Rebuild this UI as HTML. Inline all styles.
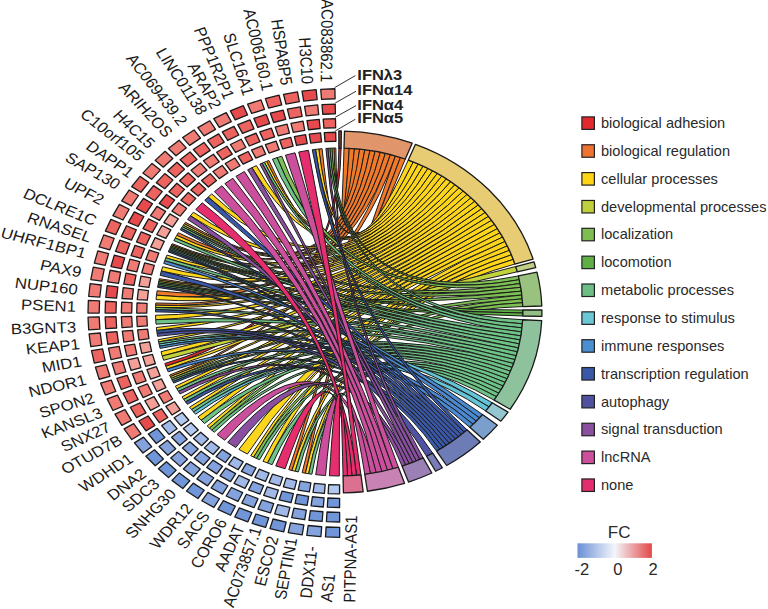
<!DOCTYPE html>
<html><head><meta charset="utf-8"><style>
html,body{margin:0;padding:0;background:#fff;width:768px;height:609px;overflow:hidden;position:relative}
svg path{vector-effect:non-scaling-stroke}
</style></head><body>
<svg width="768" height="609" viewBox="0 0 768 609" style="position:absolute;left:0;top:0">
<g transform="matrix(1.12 0 0 1 339.2 312.0)">
<g stroke="#1a1a1a" stroke-width="1.3" stroke-linejoin="round">
<g class="rb" stroke-width="1.0" stroke="#1c1c1c">
<path d="M-155.71,51.49Q0,0 -0.29,-164.00L1.72,-163.99Q0,0 -154.75,54.29Z" fill="#e3282e"/>
<path d="M-3.01,-163.97Q0,0 4.29,-163.94L8.96,-163.75Q0,0 -4.78,-163.93Z" fill="#f07a2a"/>
<path d="M-15.26,-163.29Q0,0 8.96,-163.75L13.63,-163.43Q0,0 -18.21,-162.99Z" fill="#f07a2a"/>
<path d="M-62.76,-151.52Q0,0 13.63,-163.43L18.28,-162.98Q0,0 -64.80,-150.65Z" fill="#f07a2a"/>
<path d="M-137.26,-89.75Q0,0 18.28,-162.98L22.92,-162.39Q0,0 -138.22,-88.26Z" fill="#f07a2a"/>
<path d="M-143.59,-79.23Q0,0 22.92,-162.39L27.54,-161.67Q0,0 -145.00,-76.63Z" fill="#f07a2a"/>
<path d="M-149.11,-68.27Q0,0 27.54,-161.67L32.14,-160.82Q0,0 -149.64,-67.12Z" fill="#f07a2a"/>
<path d="M-160.58,-33.34Q0,0 32.14,-160.82L36.71,-159.84Q0,0 -160.87,-31.89Z" fill="#f07a2a"/>
<path d="M-162.62,-21.24Q0,0 36.71,-159.84L41.25,-158.73Q0,0 -163.13,-16.83Z" fill="#f07a2a"/>
<path d="M-163.75,-9.01Q0,0 41.25,-158.73L45.75,-157.49Q0,0 -163.86,-6.80Z" fill="#f07a2a"/>
<path d="M-151.42,63.00Q0,0 45.75,-157.49L50.22,-156.12Q0,0 -150.73,64.63Z" fill="#f07a2a"/>
<path d="M-45.01,157.70Q0,0 50.22,-156.12L54.65,-154.63Q0,0 -42.16,158.49Z" fill="#f07a2a"/>
<path d="M-33.09,160.63Q0,0 54.65,-154.63L59.04,-153.00Q0,0 -30.19,161.20Z" fill="#f07a2a"/>
<path d="M-4.78,-163.93Q0,0 61.70,-151.95L66.17,-150.06Q0,0 -6.55,-163.87Z" fill="#fdd51a"/>
<path d="M-18.21,-162.99Q0,0 66.17,-150.06L70.59,-148.03Q0,0 -21.14,-162.63Z" fill="#fdd51a"/>
<path d="M-64.80,-150.65Q0,0 70.59,-148.03L74.94,-145.88Q0,0 -66.84,-149.76Z" fill="#fdd51a"/>
<path d="M-73.92,-146.40Q0,0 74.94,-145.88L79.22,-143.59Q0,0 -77.85,-144.34Z" fill="#fdd51a"/>
<path d="M-113.82,-118.07Q0,0 79.22,-143.59L83.44,-141.19Q0,0 -116.97,-114.95Z" fill="#fdd51a"/>
<path d="M-130.16,-99.77Q0,0 83.44,-141.19L87.59,-138.65Q0,0 -132.81,-96.21Z" fill="#fdd51a"/>
<path d="M-138.22,-88.26Q0,0 87.59,-138.65L91.65,-136.00Q0,0 -139.17,-86.76Z" fill="#fdd51a"/>
<path d="M-145.00,-76.63Q0,0 91.65,-136.00L95.64,-133.23Q0,0 -146.35,-74.00Z" fill="#fdd51a"/>
<path d="M-149.64,-67.12Q0,0 95.64,-133.23L99.54,-130.34Q0,0 -150.15,-65.96Z" fill="#fdd51a"/>
<path d="M-153.80,-56.92Q0,0 99.54,-130.34L103.36,-127.33Q0,0 -154.81,-54.14Z" fill="#fdd51a"/>
<path d="M-157.63,-45.26Q0,0 103.36,-127.33L107.08,-124.22Q0,0 -158.80,-40.98Z" fill="#fdd51a"/>
<path d="M-160.87,-31.89Q0,0 107.08,-124.22L110.71,-120.99Q0,0 -161.15,-30.44Z" fill="#fdd51a"/>
<path d="M-163.13,-16.83Q0,0 110.71,-120.99L114.25,-117.66Q0,0 -163.53,-12.41Z" fill="#fdd51a"/>
<path d="M-163.86,-6.80Q0,0 114.25,-117.66L117.68,-114.23Q0,0 -163.94,-4.58Z" fill="#fdd51a"/>
<path d="M-163.97,3.26Q0,0 117.68,-114.23L121.01,-110.69Q0,0 -163.82,7.70Z" fill="#fdd51a"/>
<path d="M-163.26,15.52Q0,0 121.01,-110.69L124.23,-107.06Q0,0 -162.96,18.46Z" fill="#fdd51a"/>
<path d="M-161.65,27.69Q0,0 124.23,-107.06L127.35,-103.33Q0,0 -161.26,29.87Z" fill="#fdd51a"/>
<path d="M-159.12,39.70Q0,0 127.35,-103.33L130.35,-99.52Q0,0 -157.99,43.99Z" fill="#fdd51a"/>
<path d="M-154.75,54.29Q0,0 130.35,-99.52L133.24,-95.62Q0,0 -153.75,57.08Z" fill="#fdd51a"/>
<path d="M-150.73,64.63Q0,0 133.24,-95.62L136.02,-91.63Q0,0 -150.02,66.26Z" fill="#fdd51a"/>
<path d="M-146.28,74.15Q0,0 136.02,-91.63L138.67,-87.56Q0,0 -144.92,76.77Z" fill="#fdd51a"/>
<path d="M-140.32,84.88Q0,0 138.67,-87.56L141.20,-83.42Q0,0 -138.77,87.40Z" fill="#fdd51a"/>
<path d="M-133.58,95.14Q0,0 141.20,-83.42L143.61,-79.20Q0,0 -131.84,97.54Z" fill="#fdd51a"/>
<path d="M-126.09,104.87Q0,0 143.61,-79.20L145.89,-74.91Q0,0 -123.21,108.24Z" fill="#fdd51a"/>
<path d="M-117.89,114.01Q0,0 145.89,-74.91L148.04,-70.56Q0,0 -115.82,116.11Z" fill="#fdd51a"/>
<path d="M-89.54,137.40Q0,0 148.04,-70.56L150.07,-66.15Q0,0 -81.98,142.04Z" fill="#fdd51a"/>
<path d="M-79.01,143.71Q0,0 150.07,-66.15L151.96,-61.67Q0,0 -76.40,145.12Z" fill="#fdd51a"/>
<path d="M-68.04,149.22Q0,0 151.96,-61.67L153.72,-57.15Q0,0 -63.97,151.01Z" fill="#fdd51a"/>
<path d="M-42.16,158.49Q0,0 153.72,-57.15L155.35,-52.57Q0,0 -39.30,159.22Z" fill="#fdd51a"/>
<path d="M-30.19,161.20Q0,0 155.35,-52.57L156.83,-47.95Q0,0 -27.27,161.72Z" fill="#fdd51a"/>
<path d="M-157.99,43.99Q0,0 157.57,-45.48L158.99,-40.23Q0,0 -156.74,48.25Z" fill="#c2d23a"/>
<path d="M-6.55,-163.87Q0,0 159.99,-36.05L160.79,-32.28Q0,0 -8.33,-163.79Z" fill="#7dc052"/>
<path d="M-51.25,-155.79Q0,0 160.79,-32.28L161.51,-28.48Q0,0 -55.45,-154.34Z" fill="#7dc052"/>
<path d="M-139.17,-86.76Q0,0 161.51,-28.48L162.13,-24.67Q0,0 -140.10,-85.25Z" fill="#7dc052"/>
<path d="M-150.15,-65.96Q0,0 162.13,-24.67L162.67,-20.84Q0,0 -150.66,-64.79Z" fill="#7dc052"/>
<path d="M-161.15,-30.44Q0,0 162.67,-20.84L163.12,-17.00Q0,0 -161.42,-28.99Z" fill="#7dc052"/>
<path d="M-150.02,66.26Q0,0 163.12,-17.00L163.47,-13.15Q0,0 -149.29,67.88Z" fill="#7dc052"/>
<path d="M-115.82,116.11Q0,0 163.47,-13.15L163.74,-9.30Q0,0 -113.70,118.18Z" fill="#7dc052"/>
<path d="M-76.40,145.12Q0,0 163.74,-9.30L163.91,-5.44Q0,0 -73.77,146.47Z" fill="#7dc052"/>
<path d="M-150.66,-64.79Q0,0 163.99,-2.00L164.00,1.00Q0,0 -151.15,-63.63Z" fill="#5fb345"/>
<path d="M-161.42,-28.99Q0,0 164.00,1.00L163.95,4.01Q0,0 -161.67,-27.53Z" fill="#5fb345"/>
<path d="M-8.33,-163.79Q0,0 163.82,7.73L163.58,11.78Q0,0 -10.10,-163.69Z" fill="#6dc285"/>
<path d="M-55.45,-154.34Q0,0 163.58,11.78L163.23,15.83Q0,0 -59.60,-152.79Z" fill="#6dc285"/>
<path d="M-66.84,-149.76Q0,0 163.23,15.83L162.79,19.86Q0,0 -68.86,-148.85Z" fill="#6dc285"/>
<path d="M-140.10,-85.25Q0,0 162.79,19.86L162.25,23.89Q0,0 -141.02,-83.73Z" fill="#6dc285"/>
<path d="M-146.35,-74.00Q0,0 162.25,23.89L161.61,27.90Q0,0 -147.66,-71.35Z" fill="#6dc285"/>
<path d="M-151.15,-63.63Q0,0 161.61,27.90L160.87,31.89Q0,0 -151.64,-62.46Z" fill="#6dc285"/>
<path d="M-154.81,-54.14Q0,0 160.87,31.89L160.03,35.87Q0,0 -155.76,-51.34Z" fill="#6dc285"/>
<path d="M-161.67,-27.53Q0,0 160.03,35.87L159.09,39.82Q0,0 -161.91,-26.07Z" fill="#6dc285"/>
<path d="M-163.94,-4.58Q0,0 159.09,39.82L158.06,43.75Q0,0 -163.98,-2.36Z" fill="#6dc285"/>
<path d="M-163.82,7.70Q0,0 158.06,43.75L156.93,47.65Q0,0 -163.55,12.13Z" fill="#6dc285"/>
<path d="M-161.26,29.87Q0,0 156.93,47.65L155.70,51.52Q0,0 -160.84,32.05Z" fill="#6dc285"/>
<path d="M-149.29,67.88Q0,0 155.70,51.52L154.37,55.36Q0,0 -148.55,69.49Z" fill="#6dc285"/>
<path d="M-144.92,76.77Q0,0 154.37,55.36L152.96,59.17Q0,0 -143.51,79.38Z" fill="#6dc285"/>
<path d="M-138.77,87.40Q0,0 152.96,59.17L151.44,62.94Q0,0 -137.17,89.89Z" fill="#6dc285"/>
<path d="M-131.84,97.54Q0,0 151.44,62.94L149.84,66.67Q0,0 -130.06,99.90Z" fill="#6dc285"/>
<path d="M-123.21,108.24Q0,0 149.84,66.67L148.14,70.36Q0,0 -120.23,111.53Z" fill="#6dc285"/>
<path d="M-113.70,118.18Q0,0 148.14,70.36L146.35,74.00Q0,0 -111.55,120.21Z" fill="#6dc285"/>
<path d="M-73.77,146.47Q0,0 146.35,74.00L144.48,77.61Q0,0 -71.12,147.78Z" fill="#6dc285"/>
<path d="M-63.97,151.01Q0,0 144.48,77.61L142.51,81.16Q0,0 -59.87,152.68Z" fill="#6dc285"/>
<path d="M-39.30,159.22Q0,0 142.51,81.16L140.46,84.66Q0,0 -36.42,159.91Z" fill="#6dc285"/>
<path d="M-27.27,161.72Q0,0 140.46,84.66L138.32,88.12Q0,0 -24.35,162.18Z" fill="#6dc285"/>
<path d="M-160.84,32.05Q0,0 136.60,90.76L133.76,94.89Q0,0 -160.39,34.22Z" fill="#62c4d6"/>
<path d="M-130.06,99.90Q0,0 133.76,94.89L130.80,98.93Q0,0 -128.24,102.23Z" fill="#62c4d6"/>
<path d="M-151.64,-62.46Q0,0 127.99,102.54L125.26,105.86Q0,0 -152.12,-61.28Z" fill="#4a8ad2"/>
<path d="M-155.76,-51.34Q0,0 125.26,105.86L122.45,109.10Q0,0 -156.66,-48.52Z" fill="#4a8ad2"/>
<path d="M-160.39,34.22Q0,0 122.45,109.10L119.55,112.27Q0,0 -159.91,36.39Z" fill="#4a8ad2"/>
<path d="M-153.75,57.08Q0,0 119.55,112.27L116.57,115.36Q0,0 -152.69,59.84Z" fill="#4a8ad2"/>
<path d="M-21.14,-162.63Q0,0 114.13,117.77L111.62,120.16Q0,0 -24.07,-162.22Z" fill="#3a58aa"/>
<path d="M-116.97,-114.95Q0,0 111.62,120.16L109.06,122.49Q0,0 -120.04,-111.74Z" fill="#3a58aa"/>
<path d="M-141.02,-83.73Q0,0 109.06,122.49L106.44,124.76Q0,0 -141.91,-82.20Z" fill="#3a58aa"/>
<path d="M-152.12,-61.28Q0,0 106.44,124.76L103.79,126.98Q0,0 -152.59,-60.11Z" fill="#3a58aa"/>
<path d="M-158.80,-40.98Q0,0 103.79,126.98L101.08,129.15Q0,0 -159.85,-36.67Z" fill="#3a58aa"/>
<path d="M-161.91,-26.07Q0,0 101.08,129.15L98.33,131.25Q0,0 -162.14,-24.61Z" fill="#3a58aa"/>
<path d="M-163.98,-2.36Q0,0 98.33,131.25L95.54,133.30Q0,0 -164.00,-0.14Z" fill="#3a58aa"/>
<path d="M-162.96,18.46Q0,0 95.54,133.30L92.70,135.29Q0,0 -162.60,21.40Z" fill="#3a58aa"/>
<path d="M-148.55,69.49Q0,0 92.70,135.29L89.82,137.21Q0,0 -147.79,71.09Z" fill="#3a58aa"/>
<path d="M-137.17,89.89Q0,0 89.82,137.21L86.91,139.08Q0,0 -135.53,92.35Z" fill="#3a58aa"/>
<path d="M-162.60,21.40Q0,0 83.48,141.16L78.00,144.26Q0,0 -162.19,24.33Z" fill="#5052a2"/>
<path d="M-10.10,-163.69Q0,0 74.96,145.86L71.89,147.40Q0,0 -11.87,-163.57Z" fill="#8b4fa2"/>
<path d="M-68.86,-148.85Q0,0 71.89,147.40L68.79,148.88Q0,0 -70.86,-147.90Z" fill="#8b4fa2"/>
<path d="M-77.85,-144.34Q0,0 68.79,148.88L65.66,150.28Q0,0 -81.73,-142.19Z" fill="#8b4fa2"/>
<path d="M-132.81,-96.21Q0,0 65.66,150.28L62.50,151.63Q0,0 -135.37,-92.58Z" fill="#8b4fa2"/>
<path d="M-143.51,79.38Q0,0 62.50,151.63L59.31,152.90Q0,0 -142.06,81.95Z" fill="#8b4fa2"/>
<path d="M-99.56,130.32Q0,0 59.31,152.90L56.09,154.11Q0,0 -92.37,135.51Z" fill="#8b4fa2"/>
<path d="M-39.45,-159.18Q0,0 52.85,155.25L47.95,156.83Q0,0 -48.00,-156.82Z" fill="#cc4f9e"/>
<path d="M-84.66,-140.46Q0,0 47.95,156.83L43.00,158.26Q0,0 -92.13,-135.67Z" fill="#cc4f9e"/>
<path d="M-94.93,-133.73Q0,0 43.00,158.26L38.01,159.54Q0,0 -102.03,-128.40Z" fill="#cc4f9e"/>
<path d="M-104.67,-126.25Q0,0 38.01,159.54L32.98,160.65Q0,0 -111.34,-120.41Z" fill="#cc4f9e"/>
<path d="M-109.03,122.51Q0,0 32.98,160.65L27.91,161.61Q0,0 -102.25,128.22Z" fill="#cc4f9e"/>
<path d="M-20.98,162.65Q0,0 27.91,161.61L22.82,162.40Q0,0 -12.15,163.55Z" fill="#cc4f9e"/>
<path d="M-27.43,-161.69Q0,0 19.42,162.85L15.43,163.27Q0,0 -36.14,-159.97Z" fill="#e62d6e"/>
<path d="M-122.33,-109.23Q0,0 15.43,163.27L11.44,163.60Q0,0 -128.06,-102.45Z" fill="#e62d6e"/>
<path d="M-56.68,153.89Q0,0 11.44,163.60L7.44,163.83Q0,0 -48.28,156.73Z" fill="#e62d6e"/>
<path d="M-8.75,163.77Q0,0 7.44,163.83L3.43,163.96Q0,0 0.11,164.00Z" fill="#e62d6e"/>
</g>
<path d="M-0.29,-164.00L-0.32,-181.00A181.0,181.0 0 0 1 1.90,-180.99L1.72,-163.99A164.0,164.0 0 0 0 -0.29,-164.00Z" fill="#8e4a3e"/>
<path d="M4.29,-163.94L4.74,-180.94A181.0,181.0 0 0 1 65.16,-168.86L59.04,-153.00A164.0,164.0 0 0 0 4.29,-163.94Z" fill="#e0956a"/>
<path d="M61.70,-151.95L68.10,-167.70A181.0,181.0 0 0 1 173.09,-52.92L156.83,-47.95A164.0,164.0 0 0 0 61.70,-151.95Z" fill="#e8cc74"/>
<path d="M157.57,-45.48L173.90,-50.19A181.0,181.0 0 0 1 175.47,-44.40L158.99,-40.23A164.0,164.0 0 0 0 157.57,-45.48Z" fill="#bfd086"/>
<path d="M159.99,-36.05L176.57,-39.79A181.0,181.0 0 0 1 180.90,-6.00L163.91,-5.44A164.0,164.0 0 0 0 159.99,-36.05Z" fill="#99c27e"/>
<path d="M163.99,-2.00L180.99,-2.21A181.0,181.0 0 0 1 180.95,4.42L163.95,4.01A164.0,164.0 0 0 0 163.99,-2.00Z" fill="#90c084"/>
<path d="M163.82,7.73L180.80,8.53A181.0,181.0 0 0 1 152.65,97.25L138.32,88.12A164.0,164.0 0 0 0 163.82,7.73Z" fill="#8ec29c"/>
<path d="M136.60,90.76L150.76,100.16A181.0,181.0 0 0 1 144.36,109.18L130.80,98.93A164.0,164.0 0 0 0 136.60,90.76Z" fill="#94c6d0"/>
<path d="M127.99,102.54L141.26,113.17A181.0,181.0 0 0 1 128.65,127.31L116.57,115.36A164.0,164.0 0 0 0 127.99,102.54Z" fill="#7a9fcc"/>
<path d="M114.13,117.77L125.96,129.98A181.0,181.0 0 0 1 95.92,153.50L86.91,139.08A164.0,164.0 0 0 0 114.13,117.77Z" fill="#6d7bb6"/>
<path d="M83.48,141.16L92.14,155.79A181.0,181.0 0 0 1 86.09,159.22L78.00,144.26A164.0,164.0 0 0 0 83.48,141.16Z" fill="#7a7cb8"/>
<path d="M74.96,145.86L82.73,160.98A181.0,181.0 0 0 1 61.91,170.08L56.09,154.11A164.0,164.0 0 0 0 74.96,145.86Z" fill="#9b80b6"/>
<path d="M52.85,155.25L58.33,171.34A181.0,181.0 0 0 1 25.19,179.24L22.82,162.40A164.0,164.0 0 0 0 52.85,155.25Z" fill="#c883b4"/>
<path d="M19.42,162.85L21.43,179.73A181.0,181.0 0 0 1 3.79,180.96L3.43,163.96A164.0,164.0 0 0 0 19.42,162.85Z" fill="#dc7090"/>
<path d="M-3.67,-213.27L-3.84,-223.27L-16.51,-222.69L-15.77,-212.72Z" fill="#ef7b74"/>
<path d="M-3.41,-198.27L-3.57,-207.97L-15.38,-207.43L-14.67,-197.76Z" fill="#e74a4c"/>
<path d="M-3.17,-184.27L-3.33,-193.47L-14.31,-192.97L-13.64,-183.80Z" fill="#ec6360"/>
<path d="M-2.94,-170.77L-3.09,-179.77L-13.30,-179.31L-12.64,-170.33Z" fill="#e74a4c"/>
<path d="M-19.68,-212.39L-20.60,-222.35L-33.19,-220.83L-31.71,-210.94Z" fill="#e74a4c"/>
<path d="M-18.31,-197.46L-19.20,-207.12L-30.93,-205.70L-29.49,-196.11Z" fill="#ef7b74"/>
<path d="M-17.02,-183.52L-17.86,-192.68L-28.78,-191.36L-27.42,-182.26Z" fill="#e74a4c"/>
<path d="M-15.78,-170.07L-16.61,-179.04L-26.76,-177.81L-25.42,-168.91Z" fill="#e74a4c"/>
<path d="M-35.59,-210.32L-37.25,-220.18L-49.69,-217.73L-47.48,-207.97Z" fill="#ec6360"/>
<path d="M-33.10,-195.53L-34.71,-205.10L-46.30,-202.81L-44.15,-193.35Z" fill="#ec6360"/>
<path d="M-30.77,-181.73L-32.30,-190.80L-43.09,-188.67L-41.05,-179.70Z" fill="#ef7b74"/>
<path d="M-28.53,-168.41L-30.03,-177.29L-40.06,-175.31L-38.06,-166.53Z" fill="#e74a4c"/>
<path d="M-51.30,-207.07L-53.69,-216.78L-65.92,-213.40L-62.98,-203.84Z" fill="#ec6360"/>
<path d="M-47.71,-192.51L-50.03,-201.92L-61.42,-198.77L-58.57,-189.50Z" fill="#e74a4c"/>
<path d="M-44.36,-178.91L-46.56,-187.85L-57.16,-184.91L-54.45,-176.12Z" fill="#ef7b74"/>
<path d="M-41.13,-165.81L-43.28,-174.54L-53.13,-171.82L-50.49,-163.21Z" fill="#ec6360"/>
<path d="M-66.72,-202.65L-69.83,-212.15L-81.77,-207.86L-78.12,-198.55Z" fill="#ef7b74"/>
<path d="M-62.05,-188.39L-65.07,-197.61L-76.19,-193.62L-72.66,-184.58Z" fill="#e74a4c"/>
<path d="M-57.69,-175.09L-60.56,-183.83L-70.91,-180.12L-67.55,-171.55Z" fill="#ec6360"/>
<path d="M-53.49,-162.26L-56.29,-170.81L-65.91,-167.36L-62.63,-158.98Z" fill="#ef7b74"/>
<path d="M-81.77,-197.09L-85.58,-206.33L-97.16,-201.16L-92.83,-192.15Z" fill="#e74a4c"/>
<path d="M-76.04,-183.22L-79.74,-192.19L-90.54,-187.37L-86.33,-178.63Z" fill="#ec6360"/>
<path d="M-70.70,-170.28L-74.21,-178.79L-84.25,-174.30L-80.27,-166.01Z" fill="#ec6360"/>
<path d="M-65.55,-157.80L-68.99,-166.12L-78.32,-161.96L-74.42,-153.84Z" fill="#ef7b74"/>
<path d="M-96.36,-190.42L-100.85,-199.35L-112.01,-193.33L-107.02,-184.66Z" fill="#ef7b74"/>
<path d="M-89.61,-177.02L-93.97,-185.68L-104.37,-180.07L-99.53,-171.67Z" fill="#ec6360"/>
<path d="M-83.32,-164.51L-87.45,-172.73L-97.13,-167.51L-92.54,-159.54Z" fill="#ef7b74"/>
<path d="M-77.25,-152.45L-81.29,-160.49L-90.29,-155.64L-85.80,-147.84Z" fill="#ec6360"/>
<path d="M-110.40,-182.67L-115.56,-191.24L-126.24,-184.40L-120.61,-176.14Z" fill="#ef7b74"/>
<path d="M-102.68,-169.82L-107.67,-178.13L-117.63,-171.76L-112.17,-163.74Z" fill="#ec6360"/>
<path d="M-95.46,-157.82L-100.20,-165.70L-109.47,-159.77L-104.29,-152.17Z" fill="#ec6360"/>
<path d="M-88.51,-146.25L-93.15,-153.96L-101.76,-148.45L-96.69,-141.01Z" fill="#ef7b74"/>
<path d="M-123.83,-173.90L-129.61,-182.06L-139.75,-174.44L-133.52,-166.62Z" fill="#ef7b74"/>
<path d="M-115.17,-161.66L-120.77,-169.57L-130.22,-162.47L-124.18,-154.89Z" fill="#ec6360"/>
<path d="M-107.08,-150.23L-112.39,-157.74L-121.19,-151.13L-115.45,-143.94Z" fill="#ef7b74"/>
<path d="M-99.28,-139.21L-104.48,-146.56L-112.65,-140.42L-107.04,-133.38Z" fill="#ef7b74"/>
<path d="M-136.57,-164.14L-142.94,-171.85L-152.48,-163.50L-145.69,-156.16Z" fill="#ef7b74"/>
<path d="M-127.01,-152.59L-133.19,-160.06L-142.08,-152.28L-135.49,-145.16Z" fill="#ec6360"/>
<path d="M-118.09,-141.80L-123.95,-148.89L-132.23,-141.64L-125.97,-134.89Z" fill="#ef7b74"/>
<path d="M-109.49,-131.39L-115.22,-138.33L-122.91,-131.59L-116.79,-124.99Z" fill="#ec6360"/>
<path d="M-148.54,-153.47L-155.47,-160.67L-164.36,-151.63L-157.03,-144.82Z" fill="#ef7b74"/>
<path d="M-138.14,-142.65L-144.87,-149.65L-153.15,-141.22L-146.04,-134.62Z" fill="#ec6360"/>
<path d="M-128.44,-132.56L-134.82,-139.19L-142.53,-131.35L-135.78,-125.09Z" fill="#ec6360"/>
<path d="M-119.08,-122.83L-125.32,-129.32L-132.49,-122.03L-125.89,-115.90Z" fill="#ec6360"/>
<path d="M-159.68,-141.92L-167.13,-148.59L-175.32,-138.91L-167.50,-132.67Z" fill="#ef7b74"/>
<path d="M-148.50,-131.92L-155.73,-138.39L-163.36,-129.36L-155.78,-123.31Z" fill="#ec6360"/>
<path d="M-138.07,-122.58L-144.93,-128.72L-152.03,-120.32L-144.84,-114.58Z" fill="#ec6360"/>
<path d="M-128.01,-113.58L-134.72,-119.58L-141.32,-111.77L-134.28,-106.16Z" fill="#ec6360"/>
<path d="M-169.92,-129.58L-177.85,-135.67L-185.29,-125.40L-177.03,-119.76Z" fill="#ec6360"/>
<path d="M-158.03,-120.44L-165.72,-126.35L-172.65,-116.78L-164.64,-111.31Z" fill="#ec6360"/>
<path d="M-146.93,-111.91L-154.22,-117.51L-160.68,-108.61L-153.08,-103.42Z" fill="#e74a4c"/>
<path d="M-136.23,-103.68L-143.36,-109.16L-149.36,-100.89L-141.92,-95.81Z" fill="#ef7b74"/>
<path d="M-179.22,-116.50L-187.58,-121.98L-194.23,-111.18L-185.57,-106.18Z" fill="#ef7b74"/>
<path d="M-166.67,-108.27L-174.78,-113.59L-180.98,-103.53L-172.58,-98.68Z" fill="#e74a4c"/>
<path d="M-154.96,-100.60L-162.66,-105.64L-168.42,-96.28L-160.46,-91.68Z" fill="#ef7b74"/>
<path d="M-143.67,-93.20L-151.20,-98.13L-156.56,-89.43L-148.77,-84.93Z" fill="#f3a098"/>
<path d="M-187.50,-102.76L-196.25,-107.61L-202.08,-96.34L-193.07,-92.00Z" fill="#ef7b74"/>
<path d="M-174.38,-95.50L-182.87,-100.20L-188.29,-89.70L-179.55,-85.49Z" fill="#e74a4c"/>
<path d="M-162.13,-88.72L-170.18,-93.18L-175.23,-83.41L-166.94,-79.42Z" fill="#ec6360"/>
<path d="M-150.32,-82.19L-158.19,-86.54L-162.89,-77.46L-154.78,-73.56Z" fill="#f3a098"/>
<path d="M-194.74,-88.45L-203.83,-92.62L-208.79,-80.95L-199.48,-77.30Z" fill="#ec6360"/>
<path d="M-181.11,-82.19L-189.92,-86.23L-194.55,-75.36L-185.52,-71.82Z" fill="#ec6360"/>
<path d="M-168.39,-76.34L-176.75,-80.18L-181.05,-70.06L-172.49,-66.70Z" fill="#ec6360"/>
<path d="M-156.12,-70.71L-164.30,-74.46L-168.30,-65.06L-159.92,-61.77Z" fill="#f3a098"/>
<path d="M-200.89,-73.63L-210.26,-77.11L-214.34,-65.10L-204.78,-62.16Z" fill="#ef7b74"/>
<path d="M-186.82,-68.41L-195.92,-71.78L-199.72,-60.59L-190.45,-57.74Z" fill="#ec6360"/>
<path d="M-173.70,-63.53L-182.33,-66.73L-185.86,-56.32L-177.07,-53.61Z" fill="#ec6360"/>
<path d="M-161.05,-58.83L-169.48,-61.96L-172.77,-52.28L-164.17,-49.63Z" fill="#ef7b74"/>
<path d="M-205.91,-58.39L-215.51,-61.16L-218.68,-48.88L-208.93,-46.66Z" fill="#ef7b74"/>
<path d="M-191.49,-54.24L-200.81,-56.92L-203.77,-45.48L-194.31,-43.32Z" fill="#e74a4c"/>
<path d="M-178.04,-50.36L-186.88,-52.91L-189.63,-42.26L-180.66,-40.21Z" fill="#ef7b74"/>
<path d="M-165.07,-46.61L-173.72,-49.11L-176.27,-39.21L-167.50,-37.21Z" fill="#ef7b74"/>
<path d="M-209.77,-42.82L-219.56,-44.87L-221.80,-32.39L-211.91,-30.90Z" fill="#ef7b74"/>
<path d="M-195.09,-39.76L-204.58,-41.74L-206.67,-30.11L-197.08,-28.66Z" fill="#ef7b74"/>
<path d="M-181.38,-36.89L-190.39,-38.77L-192.33,-27.95L-183.24,-26.58Z" fill="#ec6360"/>
<path d="M-168.17,-34.13L-176.98,-35.97L-178.79,-25.91L-169.89,-24.57Z" fill="#f3a098"/>
<path d="M-212.46,-27.01L-222.38,-28.32L-223.68,-15.70L-213.71,-14.96Z" fill="#ef7b74"/>
<path d="M-197.59,-25.05L-207.21,-26.32L-208.42,-14.56L-198.75,-13.84Z" fill="#e74a4c"/>
<path d="M-183.71,-23.22L-192.83,-24.42L-193.96,-13.48L-184.79,-12.80Z" fill="#ef7b74"/>
<path d="M-170.33,-21.45L-179.25,-22.63L-180.30,-12.46L-171.32,-11.79Z" fill="#f3a098"/>
<path d="M-213.96,-11.04L-223.95,-11.60L-224.30,1.08L-214.30,1.07Z" fill="#ef7b74"/>
<path d="M-198.99,-10.19L-208.67,-10.74L-209.00,1.07L-199.30,1.07Z" fill="#ec6360"/>
<path d="M-185.01,-9.41L-194.19,-9.93L-194.50,1.07L-185.30,1.06Z" fill="#ef7b74"/>
<path d="M-171.53,-8.65L-180.51,-9.16L-180.80,1.06L-171.80,1.06Z" fill="#ef7b74"/>
<path d="M-214.26,5.00L-224.26,5.19L-223.67,17.86L-213.69,17.11Z" fill="#ef7b74"/>
<path d="M-199.27,4.72L-208.96,4.90L-208.41,16.71L-198.74,15.98Z" fill="#ec6360"/>
<path d="M-185.27,4.46L-194.47,4.63L-193.95,15.62L-184.78,14.93Z" fill="#ef7b74"/>
<path d="M-171.77,4.21L-180.77,4.38L-180.29,14.59L-171.31,13.91Z" fill="#ef7b74"/>
<path d="M-213.36,21.02L-223.32,21.95L-221.78,34.54L-211.89,33.05Z" fill="#ef7b74"/>
<path d="M-198.43,19.62L-208.09,20.52L-206.65,32.25L-197.06,30.80Z" fill="#ec6360"/>
<path d="M-184.49,18.31L-193.65,19.17L-192.31,30.08L-183.22,28.71Z" fill="#ef7b74"/>
<path d="M-171.05,17.05L-180.01,17.89L-178.77,28.04L-169.87,26.69Z" fill="#ef7b74"/>
<path d="M-211.27,36.92L-221.13,38.60L-218.65,51.04L-208.90,48.81Z" fill="#ec6360"/>
<path d="M-196.48,34.41L-206.04,36.03L-203.73,47.62L-194.28,45.46Z" fill="#ef7b74"/>
<path d="M-182.68,32.06L-191.75,33.60L-189.60,44.39L-180.63,42.34Z" fill="#ef7b74"/>
<path d="M-169.37,29.80L-178.24,31.31L-176.24,41.33L-167.47,39.33Z" fill="#f3a098"/>
<path d="M-207.99,52.63L-217.69,55.04L-214.29,67.25L-204.74,64.30Z" fill="#ef7b74"/>
<path d="M-193.43,49.01L-202.84,51.35L-199.67,62.73L-190.41,59.87Z" fill="#ef7b74"/>
<path d="M-179.84,45.64L-188.77,47.86L-185.82,58.45L-177.03,55.73Z" fill="#f3a098"/>
<path d="M-166.74,42.39L-175.48,44.56L-172.73,54.40L-164.13,51.75Z" fill="#f3a098"/>
<path d="M-203.54,68.04L-213.04,71.17L-208.74,83.10L-199.43,79.44Z" fill="#ef7b74"/>
<path d="M-189.30,63.35L-198.51,66.38L-194.50,77.50L-185.47,73.95Z" fill="#ec6360"/>
<path d="M-176.00,58.97L-184.74,61.85L-181.00,72.19L-172.44,68.82Z" fill="#ef7b74"/>
<path d="M-163.18,54.74L-171.73,57.56L-168.25,67.18L-159.88,63.88Z" fill="#f3a098"/>
<path d="M-197.96,83.08L-207.20,86.91L-202.01,98.48L-193.00,94.14Z" fill="#ef7b74"/>
<path d="M-184.10,77.33L-193.06,81.05L-188.23,91.83L-179.49,87.62Z" fill="#ec6360"/>
<path d="M-171.17,71.97L-179.67,75.49L-175.17,85.53L-166.89,81.53Z" fill="#ef7b74"/>
<path d="M-158.70,66.80L-167.01,70.25L-162.83,79.58L-154.73,75.66Z" fill="#f3a098"/>
<path d="M-191.26,97.66L-200.19,102.17L-194.15,113.32L-185.50,108.31Z" fill="#ef7b74"/>
<path d="M-177.88,90.89L-186.53,95.27L-180.91,105.66L-172.51,100.80Z" fill="#ec6360"/>
<path d="M-165.38,84.58L-173.59,88.73L-168.36,98.40L-160.39,93.79Z" fill="#f3a098"/>
<path d="M-153.33,78.49L-161.37,82.55L-156.50,91.54L-148.71,87.03Z" fill="#ef7b74"/>
<path d="M-183.50,111.69L-192.06,116.86L-185.21,127.53L-176.95,121.89Z" fill="#ef7b74"/>
<path d="M-170.65,103.95L-178.96,108.96L-172.57,118.90L-164.56,113.43Z" fill="#e74a4c"/>
<path d="M-158.67,96.71L-166.54,101.47L-160.60,110.72L-153.00,105.53Z" fill="#ec6360"/>
<path d="M-147.11,89.74L-154.81,94.39L-149.29,102.99L-141.86,97.91Z" fill="#f3a098"/>
<path d="M-174.70,125.11L-182.86,130.90L-175.22,141.03L-167.41,134.79Z" fill="#83a2de"/>
<path d="M-162.48,116.42L-170.38,122.04L-163.27,131.48L-155.69,125.42Z" fill="#7095d8"/>
<path d="M-151.06,108.31L-158.56,113.64L-151.94,122.42L-144.76,116.68Z" fill="#a0b9e8"/>
<path d="M-140.06,100.50L-147.39,105.71L-141.24,113.87L-134.21,108.25Z" fill="#b3c8ee"/>
<path d="M-164.93,137.83L-172.63,144.22L-164.26,153.74L-156.93,146.93Z" fill="#7095d8"/>
<path d="M-153.39,128.25L-160.85,134.45L-153.05,143.32L-145.95,136.72Z" fill="#83a2de"/>
<path d="M-142.61,119.31L-149.69,125.19L-142.43,133.45L-135.70,127.18Z" fill="#83a2de"/>
<path d="M-132.22,110.69L-139.15,116.44L-132.40,124.12L-125.81,117.99Z" fill="#b3c8ee"/>
<path d="M-154.23,149.78L-161.43,156.73L-152.37,165.60L-145.58,158.26Z" fill="#7095d8"/>
<path d="M-143.44,139.37L-150.42,146.10L-141.98,154.37L-135.39,147.26Z" fill="#83a2de"/>
<path d="M-133.36,129.65L-139.98,136.04L-132.13,143.73L-125.88,136.98Z" fill="#83a2de"/>
<path d="M-123.65,120.28L-130.12,126.53L-122.82,133.68L-116.71,127.08Z" fill="#a0b9e8"/>
<path d="M-142.67,160.90L-149.33,168.37L-139.63,176.54L-133.40,168.71Z" fill="#7095d8"/>
<path d="M-132.68,149.71L-139.14,156.95L-130.11,164.57L-124.07,156.97Z" fill="#83a2de"/>
<path d="M-123.36,139.27L-129.49,146.13L-121.08,153.22L-115.35,146.02Z" fill="#83a2de"/>
<path d="M-114.38,129.19L-120.37,135.91L-112.55,142.50L-106.95,135.45Z" fill="#a0b9e8"/>
<path d="M-130.31,171.13L-136.39,179.07L-126.11,186.49L-120.49,178.22Z" fill="#7095d8"/>
<path d="M-121.19,159.22L-127.09,166.92L-117.51,173.84L-112.05,165.82Z" fill="#83a2de"/>
<path d="M-112.68,148.11L-118.27,155.41L-109.35,161.85L-104.18,154.24Z" fill="#83a2de"/>
<path d="M-104.47,137.39L-109.94,144.53L-101.65,150.52L-96.59,143.08Z" fill="#83a2de"/>
<path d="M-117.22,180.40L-122.69,188.77L-111.88,195.41L-106.89,186.74Z" fill="#83a2de"/>
<path d="M-109.01,167.84L-114.32,175.96L-104.25,182.15L-99.41,173.74Z" fill="#83a2de"/>
<path d="M-101.36,156.12L-106.39,163.82L-97.01,169.58L-92.43,161.60Z" fill="#83a2de"/>
<path d="M-93.97,144.82L-98.89,152.36L-90.18,157.70L-85.69,149.90Z" fill="#a0b9e8"/>
<path d="M-103.47,188.67L-108.30,197.42L-97.02,203.23L-92.70,194.21Z" fill="#7095d8"/>
<path d="M-96.23,175.53L-100.91,184.02L-90.40,189.44L-86.21,180.69Z" fill="#83a2de"/>
<path d="M-89.47,163.27L-93.91,171.33L-84.13,176.36L-80.15,168.07Z" fill="#a0b9e8"/>
<path d="M-82.95,151.45L-87.29,159.33L-78.21,164.01L-74.31,155.90Z" fill="#83a2de"/>
<path d="M-89.14,195.88L-93.30,204.97L-81.62,209.92L-77.98,200.61Z" fill="#7095d8"/>
<path d="M-82.90,182.24L-86.94,191.06L-76.06,195.67L-72.53,186.64Z" fill="#83a2de"/>
<path d="M-77.08,169.51L-80.90,177.87L-70.78,182.16L-67.43,173.60Z" fill="#83a2de"/>
<path d="M-71.46,157.23L-75.21,165.42L-65.79,169.40L-62.52,161.02Z" fill="#a0b9e8"/>
<path d="M-74.31,202.00L-77.78,211.38L-65.77,215.44L-62.83,205.88Z" fill="#7095d8"/>
<path d="M-69.11,187.93L-72.48,197.03L-61.28,200.81L-58.44,191.54Z" fill="#83a2de"/>
<path d="M-64.26,174.80L-67.45,183.43L-57.03,186.95L-54.33,178.16Z" fill="#a0b9e8"/>
<path d="M-59.58,162.14L-62.70,170.58L-53.01,173.85L-50.37,165.25Z" fill="#a0b9e8"/>
<path d="M-59.07,207.00L-61.83,216.61L-49.54,219.76L-47.33,210.01Z" fill="#7095d8"/>
<path d="M-54.93,192.58L-57.61,201.90L-46.16,204.84L-44.02,195.38Z" fill="#a0b9e8"/>
<path d="M-51.08,179.12L-53.61,187.97L-42.96,190.70L-40.93,181.72Z" fill="#7095d8"/>
<path d="M-47.35,166.14L-49.84,174.80L-39.93,177.33L-37.95,168.56Z" fill="#a0b9e8"/>
<path d="M-43.49,210.84L-45.52,220.63L-33.04,222.85L-31.56,212.96Z" fill="#83a2de"/>
<path d="M-40.45,196.15L-42.42,205.65L-30.78,207.72L-29.36,198.13Z" fill="#83a2de"/>
<path d="M-37.61,182.44L-39.48,191.45L-28.65,193.38L-27.29,184.28Z" fill="#7095d8"/>
<path d="M-34.87,169.22L-36.69,178.04L-26.63,179.83L-25.30,170.93Z" fill="#83a2de"/>
<path d="M-27.68,213.51L-28.97,223.42L-16.35,224.70L-15.62,214.73Z" fill="#83a2de"/>
<path d="M-25.74,198.63L-26.99,208.25L-15.23,209.44L-14.53,199.77Z" fill="#7095d8"/>
<path d="M-23.93,184.75L-25.12,193.87L-14.18,194.98L-13.51,185.81Z" fill="#83a2de"/>
<path d="M-22.19,171.36L-23.35,180.29L-13.18,181.32L-12.52,172.34Z" fill="#a0b9e8"/>
<path d="M-11.70,214.98L-12.25,224.97L0.43,225.30L0.41,215.30Z" fill="#7095d8"/>
<path d="M-10.88,200.00L-11.41,209.69L0.40,210.00L0.38,200.30Z" fill="#7095d8"/>
<path d="M-10.12,186.02L-10.62,195.21L0.37,195.50L0.36,186.30Z" fill="#7095d8"/>
<path d="M-9.38,172.54L-9.87,181.53L0.35,181.80L0.33,172.80Z" fill="#b3c8ee"/>
</g>
<g font-family="Liberation Sans" font-size="15" fill="#1a1a1a">
<text transform="translate(-11.18,-229.53) rotate(-269.41)" text-anchor="end" dy="0.36em">AC083862.1</text>
<text transform="translate(-28.01,-227.93) rotate(-273.38)" text-anchor="end" dy="0.36em">H3C10</text>
<text transform="translate(-46.52,-227.05) rotate(-277.72)" text-anchor="end" dy="0.36em">HSPA8P5</text>
<text transform="translate(-63.44,-221.57) rotate(-281.77)" text-anchor="end" dy="0.36em">AC006160.1</text>
<text transform="translate(-80.52,-217.11) rotate(-286.35)" text-anchor="end" dy="0.36em">SLC16A1</text>
<text transform="translate(-97.68,-213.66) rotate(-291.17)" text-anchor="end" dy="0.36em">PPP1R2P1</text>
<text transform="translate(-109.05,-204.36) rotate(-296.17)" text-anchor="end" dy="0.36em">ARAP2</text>
<text transform="translate(-121.26,-198.62) rotate(-300.79)" text-anchor="end" dy="0.36em">LINC01138</text>
<text transform="translate(-138.68,-188.28) rotate(-304.96)" text-anchor="end" dy="0.36em">AC069439.2</text>
<text transform="translate(-151.54,-177.04) rotate(-309.58)" text-anchor="end" dy="0.36em">ARIH2OS</text>
<text transform="translate(-166.76,-166.08) rotate(-313.69)" text-anchor="end" dy="0.36em">H4C15</text>
<text transform="translate(-176.15,-154.05) rotate(-318.67)" text-anchor="end" dy="0.36em">C10orf105</text>
<text transform="translate(-184.81,-138.06) rotate(-322.54)" text-anchor="end" dy="0.36em">DAPP1</text>
<text transform="translate(-196.67,-126.54) rotate(-327.21)" text-anchor="end" dy="0.36em">SAP130</text>
<text transform="translate(-211.09,-111.46) rotate(-330.74)" text-anchor="end" dy="0.36em">UPF2</text>
<text transform="translate(-217.30,-90.86) rotate(-335.59)" text-anchor="end" dy="0.36em">DCLRE1C</text>
<text transform="translate(-221.54,-74.44) rotate(-339.56)" text-anchor="end" dy="0.36em">RNASEL</text>
<text transform="translate(-226.26,-58.55) rotate(-344.06)" text-anchor="end" dy="0.36em">UHRF1BP1</text>
<text transform="translate(-230.20,-39.85) rotate(-348.25)" text-anchor="end" dy="0.36em">PAX9</text>
<text transform="translate(-233.36,-22.47) rotate(-352.71)" text-anchor="end" dy="0.36em">NUP160</text>
<text transform="translate(-234.94,-5.51) rotate(-357.42)" text-anchor="end" dy="0.36em">PSEN1</text>
<text transform="translate(-234.94,14.87) rotate(-361.85)" text-anchor="end" dy="0.36em">B3GNT3</text>
<text transform="translate(-231.75,31.74) rotate(-366.32)" text-anchor="end" dy="0.36em">KEAP1</text>
<text transform="translate(-230.18,48.96) rotate(-370.27)" text-anchor="end" dy="0.36em">MID1</text>
<text transform="translate(-226.22,67.29) rotate(-373.97)" text-anchor="end" dy="0.36em">NDOR1</text>
<text transform="translate(-219.25,85.20) rotate(-378.17)" text-anchor="end" dy="0.36em">SPON2</text>
<text transform="translate(-212.22,99.81) rotate(-382.46)" text-anchor="end" dy="0.36em">KANSL3</text>
<text transform="translate(-205.39,113.92) rotate(-386.84)" text-anchor="end" dy="0.36em">SNX27</text>
<text transform="translate(-195.18,126.82) rotate(-391.08)" text-anchor="end" dy="0.36em">OTUD7B</text>
<text transform="translate(-185.96,144.80) rotate(-395.15)" text-anchor="end" dy="0.36em">WDHD1</text>
<text transform="translate(-174.65,159.63) rotate(-399.81)" text-anchor="end" dy="0.36em">DNA2</text>
<text transform="translate(-163.06,169.31) rotate(-403.79)" text-anchor="end" dy="0.36em">SDC3</text>
<text transform="translate(-148.76,178.87) rotate(-408.56)" text-anchor="end" dy="0.36em">SNHG30</text>
<text transform="translate(-134.14,193.31) rotate(-412.14)" text-anchor="end" dy="0.36em">WDR12</text>
<text transform="translate(-119.41,200.81) rotate(-416.90)" text-anchor="end" dy="0.36em">SACS</text>
<text transform="translate(-104.50,207.70) rotate(-422.42)" text-anchor="end" dy="0.36em">CORO6</text>
<text transform="translate(-88.88,213.26) rotate(-427.60)" text-anchor="end" dy="0.36em">AADAT</text>
<text transform="translate(-74.18,215.33) rotate(-432.34)" text-anchor="end" dy="0.36em">AC073857.1</text>
<text transform="translate(-59.28,224.25) rotate(-436.24)" text-anchor="end" dy="0.36em">ESCO2</text>
<text transform="translate(-42.79,225.89) rotate(-440.51)" text-anchor="end" dy="0.36em">SEPTIN1</text>
<text transform="translate(-24.84,234.21) rotate(-444.26)" text-anchor="end" dy="0.36em">DDX11-</text>
<text transform="translate(-9.05,261.85) rotate(-444.26)" text-anchor="end" dy="0.36em">AS1</text>
<text transform="translate(10.62,203.23) rotate(-448.84)" text-anchor="end" dy="0.36em">PITPNA-AS1</text>
</g>
</g>
<g stroke="#333" stroke-width="1">
<line x1="334.6" y1="87.6" x2="355.4" y2="75.6"/>
<line x1="335.2" y1="103" x2="356" y2="91.25"/>
<line x1="335.2" y1="117.3" x2="356" y2="105.6"/>
<line x1="335.2" y1="131" x2="355.4" y2="119.2"/>
</g>
<g font-family="Liberation Sans" font-weight="bold" font-size="15" fill="#222">
<text transform="translate(357.3,79.8) scale(1.1,1)">IFN&#955;3</text>
<text transform="translate(357.3,95.3) scale(1.1,1)">IFN&#945;14</text>
<text transform="translate(357.3,109.6) scale(1.1,1)">IFN&#945;4</text>
<text transform="translate(357.3,123.3) scale(1.1,1)">IFN&#945;5</text>
</g>
<g font-family="Liberation Sans" font-size="14.6" fill="#2a2a2a">
<rect x="581.9" y="116.90" width="12.5" height="12.5" fill="#e3282e" stroke="#222" stroke-width="1.2"/>
<text x="601" y="128.00">biological adhesion</text>
<rect x="581.9" y="144.75" width="12.5" height="12.5" fill="#ee7330" stroke="#222" stroke-width="1.2"/>
<text x="601" y="155.85">biological regulation</text>
<rect x="581.9" y="172.60" width="12.5" height="12.5" fill="#fdd516" stroke="#222" stroke-width="1.2"/>
<text x="601" y="183.70">cellular processes</text>
<rect x="581.9" y="200.45" width="12.5" height="12.5" fill="#bfd03c" stroke="#222" stroke-width="1.2"/>
<text x="601" y="211.55">developmental processes</text>
<rect x="581.9" y="228.30" width="12.5" height="12.5" fill="#7dbd52" stroke="#222" stroke-width="1.2"/>
<text x="601" y="239.40">localization</text>
<rect x="581.9" y="256.15" width="12.5" height="12.5" fill="#5faf45" stroke="#222" stroke-width="1.2"/>
<text x="601" y="267.25">locomotion</text>
<rect x="581.9" y="284.00" width="12.5" height="12.5" fill="#6dbf85" stroke="#222" stroke-width="1.2"/>
<text x="601" y="295.10">metabolic processes</text>
<rect x="581.9" y="311.85" width="12.5" height="12.5" fill="#6cc7d4" stroke="#222" stroke-width="1.2"/>
<text x="601" y="322.95">response to stimulus</text>
<rect x="581.9" y="339.70" width="12.5" height="12.5" fill="#4a8fd0" stroke="#222" stroke-width="1.2"/>
<text x="601" y="350.80">immune responses</text>
<rect x="581.9" y="367.55" width="12.5" height="12.5" fill="#3a58a8" stroke="#222" stroke-width="1.2"/>
<text x="601" y="378.65">transcription regulation</text>
<rect x="581.9" y="395.40" width="12.5" height="12.5" fill="#5052a0" stroke="#222" stroke-width="1.2"/>
<text x="601" y="406.50">autophagy</text>
<rect x="581.9" y="423.25" width="12.5" height="12.5" fill="#8b4fa0" stroke="#222" stroke-width="1.2"/>
<text x="601" y="434.35">signal transduction</text>
<rect x="581.9" y="451.10" width="12.5" height="12.5" fill="#cc4f9c" stroke="#222" stroke-width="1.2"/>
<text x="601" y="462.20">lncRNA</text>
<rect x="581.9" y="478.95" width="12.5" height="12.5" fill="#e42d6e" stroke="#222" stroke-width="1.2"/>
<text x="601" y="490.05">none</text>
</g>
<defs><linearGradient id="fcg" x1="0" x2="1" y1="0" y2="0">
<stop offset="0" stop-color="#6b8fd5"/><stop offset="0.5" stop-color="#f3f6fb"/><stop offset="1" stop-color="#e34848"/>
</linearGradient></defs>
<rect x="577.5" y="543.3" width="74.4" height="14.6" fill="url(#fcg)"/>
<g font-family="Liberation Sans" fill="#2a2a2a">
<text x="619.2" y="537.6" font-size="17" text-anchor="middle">FC</text>
<text x="581.8" y="575.2" font-size="16.5" text-anchor="middle">-2</text>
<text x="617.8" y="575.2" font-size="16.5" text-anchor="middle">0</text>
<text x="653.1" y="575.2" font-size="16.5" text-anchor="middle">2</text>
</g>
</svg>
</body></html>
